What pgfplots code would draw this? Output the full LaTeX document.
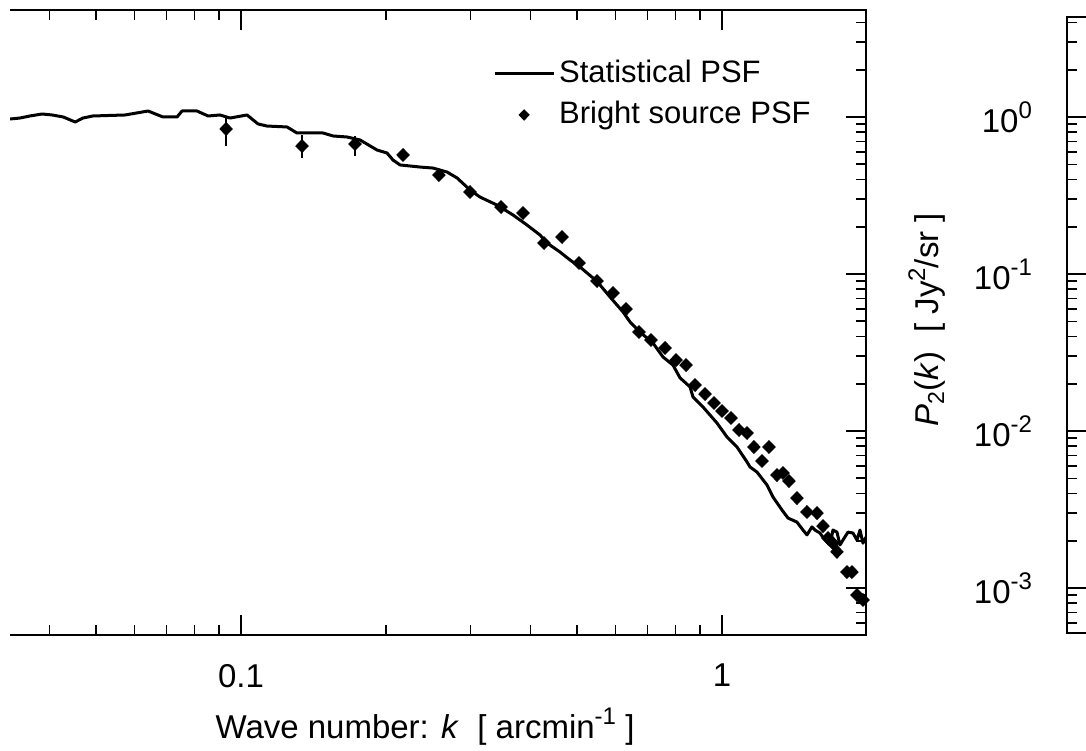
\documentclass[border=0pt]{standalone}
\usepackage{fontspec}
\setmainfont{Liberation Sans}
\usepackage{pgfplots}
\pgfplotsset{compat=1.18}
\newcommand\sups[1]{\raisebox{0.42em}{\fontsize{12}{12}\selectfont #1}}
\begin{document}
\fontsize{16}{19}\selectfont
\begin{tikzpicture}
\path[use as bounding box] (0pt,0pt) rectangle (543pt,375pt);
\begin{scope}
\clip (5pt,0pt) rectangle (543pt,375pt);
\begin{axis}[
  at={(-20pt,57.5pt)}, anchor=south west, scale only axis,
  width=453pt, height=312.5pt,
  xmode=log, ymode=log,
  xmin=0.02604, xmax=1.9928, ymin=5.02e-4, ymax=4.803,
  axis line style={line width=1pt},
  every tick/.style={line width=0.8pt, black},
  major tick length=10pt, minor tick length=5pt,
  xtick={0.1,1}, xticklabels={0.1,1},
  minor xtick={0.03,0.04,0.05,0.06,0.07,0.08,0.09,0.2,0.3,0.4,0.5,0.6,0.7,0.8,0.9,2},
  ytick={0.001,0.01,0.1,1}, yticklabels={},
  minor ytick={6e-4,7e-4,8e-4,9e-4,2e-3,3e-3,4e-3,5e-3,6e-3,7e-3,8e-3,9e-3,0.02,0.03,0.04,0.05,0.06,0.07,0.08,0.09,0.2,0.3,0.4,0.5,0.6,0.7,0.8,0.9,2,3,4},
  xticklabel style={yshift=-9pt, font=\fontsize{16.5}{19}\selectfont},
  legend style={at={(0.588,0.927)}, anchor=north west, draw=none, fill=none,
    inner sep=0pt, row sep=3pt, font=\fontsize{15.5}{18}\selectfont,
    nodes={inner sep=2pt}},
  legend cell align=left,
]
\addplot[black, line width=1.5pt, line join=round,
  legend image code/.code={\draw[line width=1.5pt] (0pt,0pt) -- (29.5pt,0pt);}]
table[row sep=\\] {
x y\\
0.0331 0.971\\ 0.0347 0.985\\ 0.0364 1.015\\ 0.0386 1.045\\ 0.0405 1.030\\
0.0427 1.000\\ 0.0452 0.929\\ 0.0469 0.985\\ 0.0492 1.015\\ 0.0574 1.030\\
0.0641 1.092\\ 0.0688 1.000\\ 0.0736 1.000\\ 0.0754 1.092\\ 0.0810 1.092\\
0.0854 1.015\\ 0.0904 1.030\\ 0.0949 0.985\\ 0.1029 1.030\\ 0.1085 0.903\\
0.1132 0.876\\ 0.1246 0.864\\ 0.1307 0.791\\ 0.1481 0.791\\ 0.1554 0.757\\
0.1661 0.746\\ 0.1768 0.714\\ 0.1918 0.616\\ 0.2011 0.590\\ 0.2070 0.532\\
0.2141 0.495\\ 0.2356 0.480\\ 0.2507 0.473\\ 0.2682 0.446\\ 0.2813 0.409\\
0.2993 0.343\\ 0.3140 0.309\\ 0.3405 0.275\\ 0.3678 0.2375\\ 0.3932 0.2051\\
0.4184 0.1772\\ 0.4327 0.1575\\ 0.4604 0.1381\\ 0.4831 0.1228\\ 0.5067 0.1108\\
0.5394 0.0943\\ 0.5578 0.0851\\ 0.5851 0.0714\\ 0.6227 0.0573\\ 0.6439 0.0495\\
0.6754 0.0427\\ 0.7188 0.0363\\ 0.7541 0.0296\\ 0.7910 0.0263\\ 0.8180 0.0218\\
0.8580 0.0191\\ 0.8704 0.01647\\ 0.9131 0.01422\\ 0.9763 0.01124\\ 1.0242 0.00916\\
1.0745 0.00791\\ 1.1273 0.00635\\ 1.1436 0.00590\\ 1.1822 0.00548\\ 1.2405 0.00453\\
1.2764 0.00380\\ 1.3326 0.00314\\ 1.3715 0.00279\\ 1.4318 0.00263\\ 1.4736 0.00234\\
1.5020 0.00218\\ 1.5384 0.00245\\ 1.5606 0.00234\\ 1.5985 0.00224\\ 1.6372 0.00202\\
1.6768 0.00188\\ 1.7011 0.00234\\ 1.7340 0.00227\\ 1.7590 0.00188\\ 1.7845 0.00202\\
1.8281 0.00227\\ 1.8720 0.00224\\ 1.9086 0.00202\\ 1.9361 0.00234\\ 1.9640 0.00193\\
1.9928 0.00211\\
};
\addlegendentry{Statistical PSF}
\addplot[only marks, mark=diamond*, mark size=3.2pt, black,
  mark options={xscale=1.3},
  legend image code/.code={\draw[mark repeat=2, mark phase=2, mark size=2.6pt] plot coordinates {(0pt,0pt) (14.75pt,0pt) (29.5pt,0pt)};}]
table[row sep=\\] {
x y\\
0.0931 0.839\\ 0.1339 0.653\\ 0.1726 0.673\\ 0.2172 0.573\\ 0.2579 0.427\\
0.2993 0.333\\ 0.3472 0.267\\ 0.3858 0.2446\\ 0.4265 0.1575\\ 0.4649 0.1720\\
0.5043 0.1175\\ 0.5497 0.0902\\ 0.5935 0.0757\\ 0.6316 0.0598\\ 0.6721 0.0427\\
0.7118 0.0380\\ 0.7614 0.0338\\ 0.8025 0.0283\\ 0.8418 0.0263\\ 0.8789 0.01963\\
0.9220 0.01720\\ 0.9625 0.01508\\ 1.0000 0.01341\\ 1.0440 0.01210\\ 1.0850 0.01015\\
1.1273 0.00971\\ 1.1650 0.00791\\ 1.2110 0.00644\\ 1.2520 0.00791\\ 1.3010 0.00524\\
1.3390 0.00540\\ 1.3780 0.00480\\ 1.4318 0.00374\\ 1.5020 0.00305\\ 1.5760 0.00300\\
1.6220 0.00248\\ 1.6610 0.00208\\ 1.7011 0.00193\\ 1.7340 0.00170\\ 1.8190 0.001264\\
1.8630 0.001264\\ 1.9086 0.000902\\ 1.9640 0.000839\\
};
\addlegendentry{Bright source PSF}
\addplot[forget plot, draw=none, black,
  error bars/.cd, y dir=both, y explicit,
  error bar style={line width=0.8pt, black},
  error mark options={line width=0.8pt, mark size=1.8pt, black}]
coordinates {
(0.0931,0.839) += (0,0.118) -= (0,0.146)
(0.1339,0.653) += (0,0.071) -= (0,0.072)
(0.1726,0.673) += (0,0.041) -= (0,0.074)
};
\end{axis}
\begin{axis}[
  at={(533.5pt,58.5pt)}, anchor=south west, scale only axis,
  width=300pt, height=308pt,
  ymode=log, xmin=0, xmax=1, ymin=5.17e-4, ymax=4.34,
  axis line style={line width=1pt},
  every tick/.style={line width=0.8pt, black},
  major tick length=10pt, minor tick length=5pt,
  xtick=\empty,
  ytick={0.001,0.01,0.1,1},
  yticklabels={10\sups{-3},10\sups{-2},10\sups{-1},10\sups{0}},
  minor ytick={6e-4,7e-4,8e-4,9e-4,2e-3,3e-3,4e-3,5e-3,6e-3,7e-3,8e-3,9e-3,0.02,0.03,0.04,0.05,0.06,0.07,0.08,0.09,0.2,0.3,0.4,0.5,0.6,0.7,0.8,0.9,2,3,4},
  yticklabel style={xshift=-12pt, font=\fontsize{16.5}{19}\selectfont},
]
\end{axis}
\end{scope}
\node[rotate=90, font=\fontsize{16.5}{19}\selectfont] at (463.5pt,215pt)
  {\textit{P}\textsubscript{2}(\textit{k})\ \ [ Jy\sups{2}/sr ]};
\node[anchor=base, font=\fontsize{16.5}{19}\selectfont] at (212.5pt,6pt)
  {Wave number: \textit{k}\ \ [ arcmin\sups{-1} ]};
\end{tikzpicture}
\end{document}
